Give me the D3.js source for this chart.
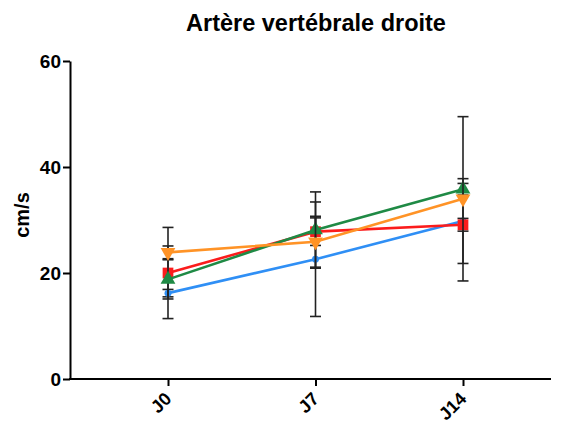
<!DOCTYPE html>
<html>
<head>
<meta charset="utf-8">
<script src="https://cdn.jsdelivr.net/npm/d3@7"></script>
<style>
  html, body { margin: 0; padding: 0; background: #fff; }
  svg { display: block; font-family: "Liberation Sans", Arial, Helvetica, sans-serif; }
</style>
</head>
<body>
<svg id="chart" width="566" height="426"></svg>
<script>
// Time points
const days = ["J0", "J7", "J14"];
const yTicks = [0, 20, 40, 60];

// Mean velocity (cm/s) and SEM per group
const blueMean   = [16.2, 22.6, 29.8];
const blueErr    = [0.7, 10.8, 8.0];
const redMean    = [20.0, 27.8, 29.1];
const redErr     = [8.6, 2.6, 1.2];
const greenMean  = [18.8, 28.1, 35.8];
const greenErr   = [3.7, 7.2, 1.1];
const orangeMean = [23.9, 25.9, 34.0];
const orangeErr  = [1.2, 4.8, 15.5];

const series = [
  { name: "blue",   mean: blueMean,   err: blueErr,   color: "#2f8ff5", symbol: d3.symbolCircle,   size: 38 },
  { name: "red",    mean: redMean,    err: redErr,    color: "#fb1c1c", symbol: d3.symbolSquare,   size: 115 },
  { name: "green",  mean: greenMean,  err: greenErr,  color: "#1f8a45", symbol: d3.symbolTriangle, size: 95 },
  { name: "orange", mean: orangeMean, err: orangeErr, color: "#ff9326", symbol: d3.symbolTriangle, size: 95, flip: true }
];

const svg = d3.select("#chart");
const x = d3.scalePoint().domain(days).range([168, 463]);
const y = d3.scaleLinear().domain([0, 60]).range([379, 61]);

// Title
svg.append("text")
  .attr("x", 316).attr("y", 31)
  .attr("text-anchor", "middle")
  .attr("font-size", 23.5).attr("font-weight", "bold")
  .text("Artère vertébrale droite");

// Y axis
const yAxis = svg.append("g")
  .attr("transform", "translate(70,0)")
  .call(d3.axisLeft(y).tickValues(yTicks).tickSize(7).tickSizeOuter(0).tickPadding(2));
yAxis.select(".domain").attr("stroke", "#000").attr("stroke-width", 2);
yAxis.selectAll(".tick line").attr("stroke", "#000").attr("stroke-width", 2);
yAxis.selectAll(".tick text")
  .attr("font-size", 19).attr("font-weight", "bold").attr("fill", "#000")
  .attr("font-family", "Liberation Sans, Arial, sans-serif");

// X axis (line spans the full plot width)
svg.append("line")
  .attr("x1", 69).attr("x2", 551).attr("y1", 379).attr("y2", 379)
  .attr("stroke", "#000").attr("stroke-width", 2);
const xAxis = svg.append("g")
  .attr("transform", "translate(0,379)")
  .call(d3.axisBottom(x).tickSize(7).tickSizeOuter(0));
xAxis.select(".domain").remove();
xAxis.selectAll(".tick line").attr("stroke", "#000").attr("stroke-width", 2);
xAxis.selectAll(".tick text")
  .attr("font-size", 18).attr("font-weight", "bold").attr("fill", "#000")
  .attr("font-family", "Liberation Sans, Arial, sans-serif")
  .attr("text-anchor", "end")
  .attr("dy", null).attr("y", 0)
  .attr("transform", "translate(4,21) rotate(-45)");

// Y axis label
svg.append("text")
  .attr("transform", "translate(29,215) rotate(-90)")
  .attr("text-anchor", "middle")
  .attr("font-size", 20).attr("font-weight", "bold")
  .text("cm/s");

// Series: line, error bars, markers
const line = d3.line().x((d, i) => x(days[i])).y(d => y(d));
const capHalf = 5.5;

series.forEach(s => {
  const g = svg.append("g").attr("class", "series-" + s.name);
  g.append("path")
    .datum(s.mean)
    .attr("d", line)
    .attr("fill", "none")
    .attr("stroke", s.color)
    .attr("stroke-width", 2.6);

  const eb = g.selectAll(".eb").data(s.mean.map((m, i) => ({ m, e: s.err[i], day: days[i] })))
    .enter().append("g").attr("class", "eb");
  eb.append("line")
    .attr("x1", d => x(d.day)).attr("x2", d => x(d.day))
    .attr("y1", d => y(d.m + d.e)).attr("y2", d => y(d.m - d.e))
    .attr("stroke", "#222").attr("stroke-width", 1.6);
  eb.append("line")
    .attr("x1", d => x(d.day) - capHalf).attr("x2", d => x(d.day) + capHalf)
    .attr("y1", d => y(d.m + d.e)).attr("y2", d => y(d.m + d.e))
    .attr("stroke", "#222").attr("stroke-width", 1.6);
  eb.append("line")
    .attr("x1", d => x(d.day) - capHalf).attr("x2", d => x(d.day) + capHalf)
    .attr("y1", d => y(d.m - d.e)).attr("y2", d => y(d.m - d.e))
    .attr("stroke", "#222").attr("stroke-width", 1.6);

  g.selectAll(".pt").data(s.mean).enter().append("path")
    .attr("class", "pt")
    .attr("d", d3.symbol().type(s.symbol).size(s.size))
    .attr("transform", (d, i) => `translate(${x(days[i])},${y(d)})` + (s.flip ? " rotate(180)" : ""))
    .attr("fill", s.color);
});
</script>
</body>
</html>
